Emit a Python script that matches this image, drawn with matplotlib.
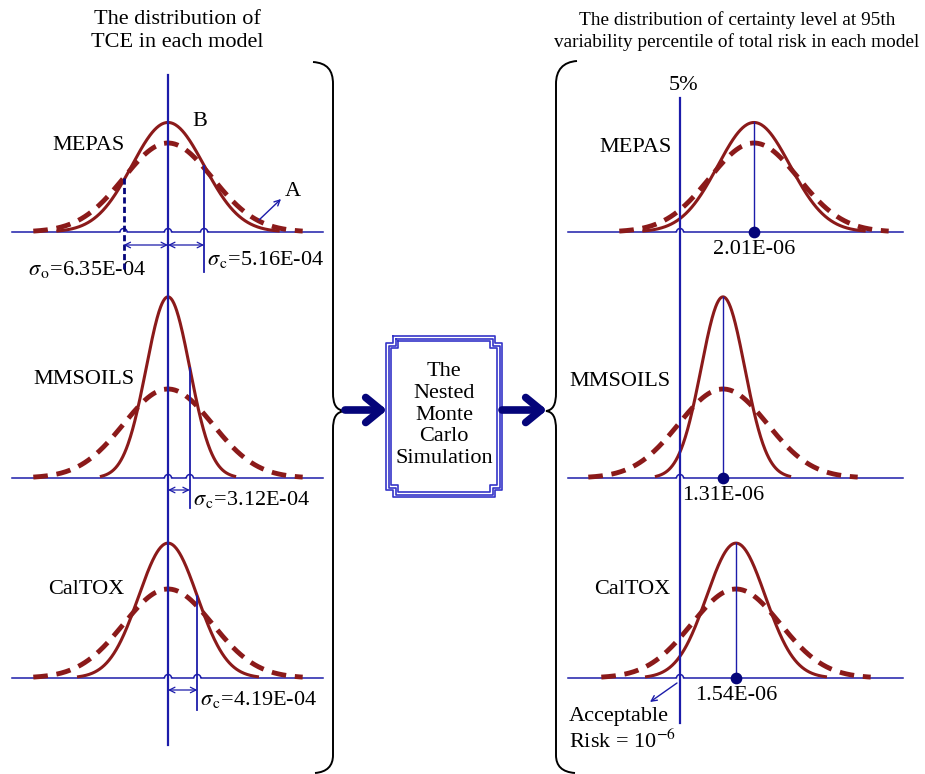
import numpy as np
import matplotlib.pyplot as plt
from matplotlib.path import Path
from matplotlib.patches import PathPatch, FancyArrowPatch

plt.rcParams['font.family'] = ['Liberation Serif', 'DejaVu Serif']
plt.rcParams['mathtext.fontset'] = 'stix'

# chart data
models = ['MEPAS', 'MMSOILS', 'CalTOX']
sigma_c = [5.16e-4, 3.12e-4, 4.19e-4]     # spread of TCE per model
sigma_o = 6.35e-4                         # spread of the original TCE distribution
sigma_c_labels = ['5.16E-04', '3.12E-04', '4.19E-04']
sigma_o_label = '6.35E-04'
risk_labels = ['2.01E-06', '1.31E-06', '1.54E-06']
left_title = 'The distribution of\nTCE in each model'
right_title = ('The distribution of certainty level at 95th\n'
               'variability percentile of total risk in each model')
box_text = 'The\nNested\nMonte\nCarlo\nSimulation'

# layout, in pixels of the 925x774 canvas
base_y = [232, 478, 678]
left_cx = 168
right_cx = [754, 723, 736]
line5_x = 680
px_per_unit = 7.0 / 1e-4
area_px = 89 * sigma_o * px_per_unit

red = '#8b1a1a'
blue = '#1c1caa'
navy = '#05057a'
fs = 16

fig = plt.figure(figsize=(9.25, 7.74), dpi=100)
ax = fig.add_axes([0, 0, 1, 1])
ax.set_xlim(0, 925)
ax.set_ylim(774, 0)
ax.axis('off')


def bell(cx, by, s_px, k=3.05):
    x = np.linspace(cx - k * s_px, cx + k * s_px, 300)
    y = by - area_px / s_px * np.exp(-0.5 * ((x - cx) / s_px) ** 2)
    return x, y


def baseline(x0, x1, y, hops, r=3.5):
    xs, ys = [x0], [y]
    for h in sorted(hops):
        t = np.linspace(np.pi, 0, 14)
        xs += list(h + r * np.cos(t))
        ys += list(y - r * np.sin(t))
    xs.append(x1)
    ys.append(y)
    ax.plot(xs, ys, color=blue, lw=1.1, zorder=2)


def arrow(p0, p1, style='->', lw=1.0, color=blue, ms=10):
    ax.add_patch(FancyArrowPatch(p0, p1, arrowstyle=style, lw=lw, color=color,
                                 mutation_scale=ms, shrinkA=0, shrinkB=0, zorder=5))


so_px = sigma_o * px_per_unit

# ---- left panel: TCE distributions
for i, m in enumerate(models):
    by = base_y[i]
    sc_px = sigma_c[i] * px_per_unit
    hops = [left_cx, left_cx + sc_px] + ([left_cx - so_px] if i == 0 else [])
    baseline(12, 323, by, hops)

    xd, yd = bell(left_cx, by, so_px, 3.03)
    ax.plot(xd, yd, color=red, lw=3.5, ls=(0, (3, 1.8)), zorder=3)
    xs, ys = bell(left_cx, by, sc_px)
    ax.plot(xs, ys, color=red, lw=2.2, zorder=3)

    # sigma_c marker line
    xl = left_cx + sc_px
    ytop = by - area_px / sc_px * np.exp(-0.5)
    ax.plot([xl, xl], [ytop, by + [40, 30, 32][i]], color=blue, lw=1.3, zorder=4)
    arrow((left_cx, by + [13, 12, 12][i]), (xl, by + [13, 12, 12][i]), '<->', 0.9)
    ax.text(xl + 3, by + [28, 22, 22][i], r'$\sigma_{\,\mathrm{c}}$=' + sigma_c_labels[i],
            fontsize=fs, va='center', ha='left')

ax.text(52, 146, models[0], fontsize=fs, va='center')
ax.text(33, 380, models[1], fontsize=fs, va='center')
ax.text(48, 590, models[2], fontsize=fs, va='center')

# sigma_o marker for MEPAS
xo = left_cx - so_px
ax.plot([xo, xo], [base_y[0] - 89 * np.exp(-0.5), base_y[0] + 38], color=navy, lw=2.0,
        ls=(0, (2.2, 1.2)), zorder=4)
arrow((xo, base_y[0] + 13), (left_cx, base_y[0] + 13), '<->', 0.9)
ax.text(28, 270, r'$\sigma_{\,\mathrm{o}}$=' + sigma_o_label, fontsize=fs, va='center', ha='left')

ax.text(200, 122, 'B', fontsize=fs, ha='center', va='center')
ax.text(293, 192, 'A', fontsize=fs, ha='center', va='center')
arrow((259, 220), (281, 199), '->', 1.0)

ax.plot([left_cx, left_cx], [75, 745], color=blue, lw=1.6, zorder=4)
ax.text(177, 31, left_title, fontsize=fs, ha='center', va='center', linespacing=1.22)

# ---- right panel: certainty level distributions
for i, m in enumerate(models):
    by = base_y[i]
    cx = right_cx[i]
    sc_px = sigma_c[i] * px_per_unit
    baseline(568, 903, by, [line5_x])
    xd, yd = bell(cx, by, so_px, 3.03)
    ax.plot(xd, yd, color=red, lw=3.5, ls=(0, (3, 1.8)), zorder=3)
    xs, ys = bell(cx, by, sc_px)
    ax.plot(xs, ys, color=red, lw=2.2, zorder=3)
    ax.plot([cx, cx], [by - area_px / sc_px, by], color=blue, lw=1.0, zorder=4)
    ax.scatter([cx], [by], s=55, color=navy, zorder=6)
    ax.text(cx, by + 18, risk_labels[i], fontsize=fs, ha='center', va='center')

ax.text(672, 147, models[0], fontsize=fs, va='center', ha='right')
ax.text(670, 381, models[1], fontsize=fs, va='center', ha='right')
ax.text(670, 589, models[2], fontsize=fs, va='center', ha='right')

ax.plot([line5_x, line5_x], [98, 723], color=blue, lw=1.6, zorder=4)
ax.text(683, 86, '5%', fontsize=fs, ha='center', va='center')
arrow((677, 683), (650, 702), '->', 1.0)
ax.text(569, 716, 'Acceptable', fontsize=fs, va='center')
ax.text(569, 741, r'Risk = 10$^{-6}$', fontsize=fs, va='center')
ax.text(737, 31, right_title, fontsize=13.9, ha='center', va='center', linespacing=1.32)

# ---- braces
C, L, M = Path.CURVE4, Path.LINETO, Path.MOVETO
lb = [(313, 62), (327, 63), (333, 70), (333, 84), (333, 392),
      (333, 405), (336, 410), (345, 411), (336, 412), (333, 417), (333, 430),
      (333, 755), (333, 766), (327, 772), (315, 773)]
lc = [M, C, C, C, L, C, C, C, C, C, C, L, C, C, C]
ax.add_patch(PathPatch(Path(lb, lc), fill=False, lw=1.4, color='black'))
rb = [(577, 61), (563, 62), (556, 70), (556, 84), (556, 392),
      (556, 405), (553, 410), (546, 411), (553, 412), (556, 417), (556, 430),
      (556, 755), (556, 766), (562, 772), (575, 773)]
ax.add_patch(PathPatch(Path(rb, lc), fill=False, lw=1.4, color='black'))

# ---- central box
def notched(x0, y0, x1, y1, n):
    return [(x0 + n, y0), (x1 - n, y0), (x1 - n, y0 + n), (x1, y0 + n),
            (x1, y1 - n), (x1 - n, y1 - n), (x1 - n, y1), (x0 + n, y1),
            (x0 + n, y1 - n), (x0, y1 - n), (x0, y0 + n), (x0 + n, y0 + n), (x0 + n, y0)]


for d in [0, 2.5, 5]:
    pts = notched(386 + d, 336 + d, 502 - d, 497 - d, 7)
    ax.plot([p[0] for p in pts], [p[1] for p in pts], color='#3535c8', lw=1.2, zorder=4)
ax.text(444, 415, box_text, fontsize=fs, ha='center', va='center', linespacing=1.18)

arrow((345, 410), (387, 410), '->,head_length=0.55,head_width=0.45', 5.5, navy, 20)
arrow((502, 410), (547, 410), '->,head_length=0.55,head_width=0.45', 5.5, navy, 20)

fig.savefig('out.png', dpi=100)
